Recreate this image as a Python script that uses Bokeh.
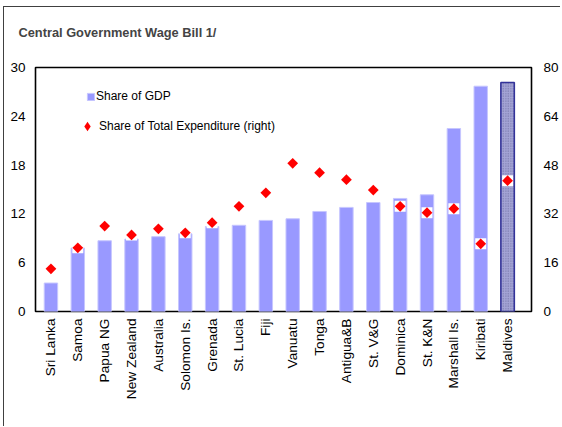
import math
from bokeh.plotting import figure
from bokeh.models import (Range1d, LinearAxis, FixedTicker, ColumnDataSource,
                          Legend, LegendItem, Title)
from bokeh.embed import file_html
from bokeh.resources import INLINE

countries = ["Sri Lanka", "Samoa", "Papua NG", "New Zealand", "Australia",
             "Solomon Is.", "Grenada", "St. Lucia", "Fiji", "Vanuatu", "Tonga",
             "Antigua&B", "St. V&G", "Dominica", "St. K&N", "Marshall Is.",
             "Kiribati", "Maldives"]
gdp_share = [3.5, 7.8, 8.7, 8.9, 9.2, 9.55, 10.45, 10.6, 11.2, 11.4, 12.3,
             12.8, 13.4, 13.9, 14.35, 22.5, 27.7, 28.15]
exp_share = [14.0, 20.9, 28.0, 25.1, 27.1, 25.8, 29.1, 34.5, 38.9, 48.6, 45.5,
             43.2, 39.8, 34.5, 32.4, 33.7, 22.2, 42.9]
left_ticks = [0, 6, 12, 18, 24, 30]
right_ticks = [0, 16, 32, 48, 64, 80]
title_text = "Central Government Wage Bill 1/"
label_gdp = "Share of GDP"
label_exp = "Share of Total Expenditure (right)"

FONT = "Liberation Sans"
W, H = 557, 420
FL, FR, FT, FB = 31, 529, 60, 304   # frame edges in canvas pixels
idx = list(range(len(countries)))

src_main = ColumnDataSource(dict(x=idx[:-1], gdp=gdp_share[:-1]))
src_mald = ColumnDataSource(dict(x=idx[-1:], gdp=gdp_share[-1:]))
src_exp = ColumnDataSource(dict(x=idx, exp=exp_share))

p = figure(width=W, height=H, output_backend="svg", toolbar_location=None,
           x_range=Range1d(-0.575, 17.89), y_range=Range1d(0, 30),
           min_border_left=FL, min_border_right=W - FR, min_border_top=FT,
           min_border_bottom=H - FB)
p.styles = {"margin-left": "3px", "margin-top": "6px",
            "border-left": "1px solid #404040",
            "border-top": "1px solid #404040"}
p.extra_y_ranges = {"right": Range1d(0, 80)}
p.xgrid.visible = False
p.ygrid.visible = False
p.outline_line_color = "black"
p.outline_line_width = 1.6
p.background_fill_color = "white"
p.border_fill_color = "white"

p.title.text = title_text
p.title.text_font = FONT
p.title.text_font_size = "12.8px"
p.title.text_font_style = "bold"
p.title.align = "left"
p.title.offset = -17
p.title.standoff = 10

spacer = Title(text=" ", text_font_size="1px", standoff=20)
p.add_layout(spacer, "above")

def style_axis(ax, standoff, size="13.5px"):
    ax.axis_line_color = None
    ax.major_tick_line_color = None
    ax.minor_tick_line_color = None
    ax.major_tick_out = 0
    ax.major_tick_in = 0
    ax.major_label_text_font = FONT
    ax.major_label_text_font_size = size
    ax.major_label_text_color = "black"
    ax.major_label_standoff = standoff

yl = p.yaxis[0]
yl.ticker = FixedTicker(ticks=left_ticks)
style_axis(yl, 10)

yr = LinearAxis(y_range_name="right", ticker=FixedTicker(ticks=right_ticks))
style_axis(yr, 12)
p.add_layout(yr, "right")

xa = p.xaxis[0]
xa.ticker = FixedTicker(ticks=idx)
xa.major_label_overrides = {i: c for i, c in zip(idx, countries)}
xa.major_label_orientation = math.pi / 2
style_axis(xa, 7, "13.7px")

bars = p.vbar(x="x", top="gdp", width=0.5, source=src_main,
              fill_color="#9999ff", line_color="#c6c6ff", line_width=1)
p.vbar(x="x", top="gdp", width=0.5, source=src_mald,
       fill_color="#a4a4d6", hatch_pattern="dot", hatch_color="#6a6aa0",
       hatch_scale=2.5, hatch_weight=1,
       line_color="#333399", line_width=1.6)

p.scatter(x="x", y="exp", source=src_exp, y_range_name="right",
          marker="square", size=11, fill_color="white", line_color=None)
p.scatter(x="x", y="exp", source=src_exp, y_range_name="right",
          marker="square", angle=math.pi / 4, size=7.6,
          fill_color="#ff0000", line_color=None)
# invisible (size 0) renderer used only for the legend's diamond symbol
dia_leg = p.scatter(x="x", y="exp", source=src_exp, y_range_name="right",
                    marker="diamond", size=0,
                    fill_color="#ff0000", line_color=None)

common = dict(padding=0, margin=0, border_line_color=None,
              background_fill_alpha=0, label_text_font=FONT,
              label_text_font_size="12px", label_text_color="black")
leg1 = Legend(items=[LegendItem(label=label_gdp, renderers=[bars])],
              location=(51, 208), glyph_width=9, glyph_height=9,
              label_height=9, label_standoff=1, **common)
leg2 = Legend(items=[LegendItem(label=label_exp, renderers=[dia_leg])],
              location=(40, 173), glyph_width=24, glyph_height=24,
              label_height=24, label_standoff=0, **common)
p.add_layout(leg1)
p.add_layout(leg2)

open("out.html", "w").write(file_html(p, INLINE))
